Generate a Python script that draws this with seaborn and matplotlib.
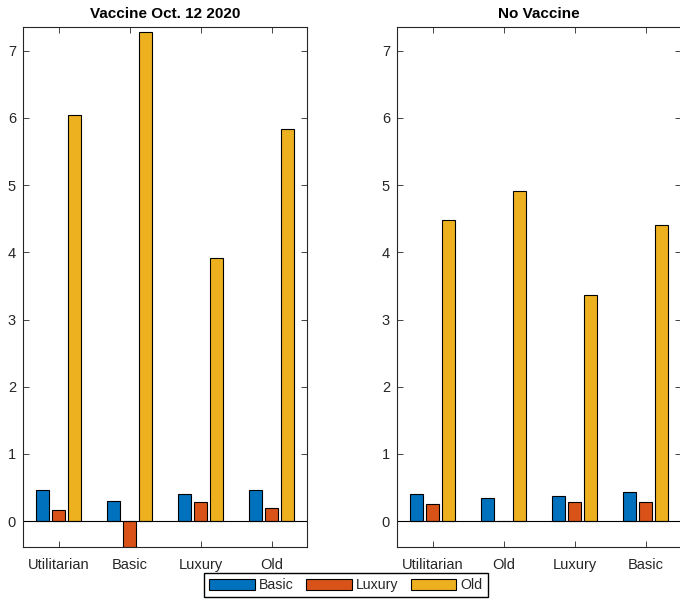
import matplotlib
matplotlib.use("Agg")
import matplotlib.pyplot as plt
from matplotlib.patches import Patch
import pandas as pd
import seaborn as sns

# Scenario categories (x axis) for each panel
cats_vaccine = ["Utilitarian", "Basic", "Luxury", "Old"]
cats_novaccine = ["Utilitarian", "Old", "Luxury", "Basic"]

# Series shown in every group
series = ["Basic", "Luxury", "Old"]

# Values per series, panel "Vaccine Oct. 12 2020"
vac_basic = [0.47, 0.30, 0.40, 0.47]
vac_luxury = [0.16, -0.39, 0.28, 0.19]
vac_old = [6.04, 7.28, 3.92, 5.83]

# Values per series, panel "No Vaccine"
novac_basic = [0.41, 0.34, 0.37, 0.43]
novac_luxury = [0.26, 0.005, 0.28, 0.28]
novac_old = [4.48, 4.92, 3.37, 4.41]

y_ticks = [0, 1, 2, 3, 4, 5, 6, 7]

colors = ["#0072BD", "#D95319", "#EDB120"]
axis_gray = "#262626"


def long_frame(cats, *vals):
    rows = []
    for name, v in zip(series, vals):
        for c, y in zip(cats, v):
            rows.append({"cat": c, "series": name, "val": y})
    return pd.DataFrame(rows)


sns.set_theme(style="white")
plt.rcParams["font.family"] = ["Liberation Sans", "DejaVu Sans"]

W, H = 680, 599
fig = plt.figure(figsize=(W / 100, H / 100), dpi=100)

panels = [
    ("Vaccine Oct. 12 2020", cats_vaccine, long_frame(cats_vaccine, vac_basic, vac_luxury, vac_old), 23),
    ("No Vaccine", cats_novaccine, long_frame(cats_novaccine, novac_basic, novac_luxury, novac_old), 397),
]

for title, cats, df, left_px in panels:
    ax = fig.add_axes([left_px / W, 1 - 547.3 / H, 284 / W, 520 / H])
    sns.barplot(data=df, x="cat", y="val", hue="series", order=cats,
                hue_order=series, palette=colors, width=0.667, gap=0.2,
                edgecolor="black", linewidth=0.8, saturation=1,
                errorbar=None, legend=False, ax=ax)
    ax.axhline(0, color="black", lw=0.8, zorder=1)
    ax.set_xlim(-0.5, len(cats) - 0.5)
    ax.set_ylim(-0.39, 7.35)
    ax.set_yticks(y_ticks)
    ax.set_xlabel("")
    ax.set_ylabel("")
    ax.set_title(title, fontsize=11, fontweight="bold", color="black", pad=7)
    for s in ax.spines.values():
        s.set_visible(True)
        s.set_color(axis_gray)
        s.set_linewidth(0.8)
    ax.tick_params(direction="in", length=4, width=0.6, color=axis_gray,
                   labelcolor=axis_gray, labelsize=10.5, top=True, right=True,
                   bottom=True, left=True, pad=5)
    ax.tick_params(axis="x", pad=8)

handles = [Patch(facecolor=c, edgecolor="black", linewidth=0.8) for c in colors]
fig.legend(handles, series, loc="upper center", bbox_to_anchor=(346 / W, 1 - 573.3 / H),
           ncol=3, frameon=True, fancybox=False, edgecolor="black", fontsize=10.2,
           handlelength=3.2, handleheight=0.85, columnspacing=0.9, handletextpad=0.3,
           borderpad=0.35, borderaxespad=0.0, framealpha=1)

fig.savefig("out.png", dpi=100)
